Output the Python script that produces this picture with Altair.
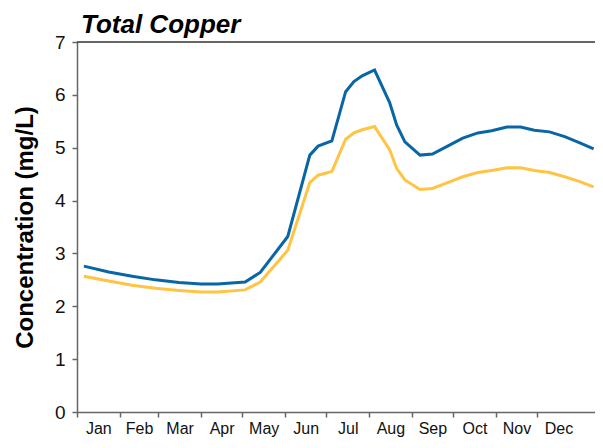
import altair as alt
import pandas as pd

# Day of year for each sample point
days = [5, 23, 40, 57, 74, 90, 102, 122, 133, 153, 169, 175, 185, 195, 201, 207, 216,
        227, 232, 238, 249, 258, 269, 280, 291, 301, 312, 322, 332, 343, 354, 365, 375]
upper = [2.76, 2.65, 2.57, 2.50, 2.45, 2.42, 2.42, 2.46, 2.64, 3.32, 4.86, 5.03, 5.13,
         6.06, 6.25, 6.36, 6.47, 5.85, 5.43, 5.11, 4.86, 4.88, 5.03, 5.18, 5.28, 5.32,
         5.39, 5.39, 5.33, 5.30, 5.21, 5.09, 4.98]
lower = [2.57, 2.48, 2.40, 2.34, 2.30, 2.27, 2.27, 2.31, 2.46, 3.06, 4.34, 4.48, 4.55,
         5.16, 5.28, 5.34, 5.40, 4.96, 4.61, 4.39, 4.21, 4.23, 4.34, 4.45, 4.53, 4.57,
         4.62, 4.62, 4.57, 4.53, 4.45, 4.36, 4.26]

months = ["Jan", "Feb", "Mar", "Apr", "May", "Jun", "Jul", "Aug", "Sep", "Oct", "Nov", "Dec"]
month_starts = [0, 31, 59, 90, 120, 151, 181, 212, 243, 273, 304, 334]
month_mids = [15.5, 45, 74.5, 105, 135.5, 166, 196.5, 227.5, 258, 288.5, 319, 349.5]
y_ticks = [0, 1, 2, 3, 4, 5, 6, 7]

series_names = ["Upper", "Lower"]
series_colors = ["#0866a4", "#ffc444"]

df = pd.concat([
    pd.DataFrame({"day": days, "value": upper, "series": "Upper"}),
    pd.DataFrame({"day": days, "value": lower, "series": "Lower"}),
])
top_df = pd.DataFrame({"v": [7]})

mids_js = "[" + ",".join(str(m) for m in month_mids) + "]"
starts_js = "[" + ",".join(str(s) for s in month_starts) + "]"
names_js = "[" + ",".join("'" + m + "'" for m in months) + "]"

font = "Liberation Sans"

x_axis = alt.Axis(
    values=month_starts + month_mids,
    labelExpr=f"indexof({mids_js}, datum.value) >= 0 ? {names_js}[indexof({mids_js}, datum.value)] : ''",
    tickOpacity={"condition": {"test": f"indexof({starts_js}, datum.value) < 0", "value": 0}, "value": 1},
    tickSize=5,
    tickColor="#666666",
    domainColor="#666666",
    domainWidth=1.5,
    tickWidth=1.5,
    labelPadding=3,
    labelFont=font,
    labelFontSize=16,
    labelColor="#111111",
    labelOverlap=False,
    labelFlush=False,
    grid=False,
    title=None,
)

y_axis = alt.Axis(
    values=y_ticks,
    format="d",
    tickSize=5,
    tickColor="#666666",
    tickWidth=1.5,
    domainColor="#666666",
    domainWidth=1.5,
    labelPadding=7,
    labelFont=font,
    labelFontSize=19,
    labelColor="#111111",
    grid=False,
    title="Concentration (mg/L)",
    titleFont=font,
    titleFontSize=24,
    titleFontWeight="bold",
    titleColor="#000000",
    titleAngle=-90,
    titleX=-52,
    titleY=185,
    titleAlign="center",
    titleBaseline="middle",
)

lines = alt.Chart(df).mark_line(strokeWidth=3).encode(
    x=alt.X("day:Q", scale=alt.Scale(domain=[0, 376], nice=False, zero=False), axis=x_axis),
    y=alt.Y("value:Q", scale=alt.Scale(domain=[0, 7], nice=False), axis=y_axis),
    color=alt.Color("series:N", scale=alt.Scale(domain=series_names, range=series_colors), legend=None),
    detail="series:N",
)

top = alt.Chart(top_df).mark_rule(color="#333333", strokeWidth=1.5).encode(y="v:Q")

chart = alt.layer(lines, top).properties(
    width=518,
    height=370,
    title=alt.TitleParams(
        "Total Copper",
        anchor="start",
        frame="group",
        font=font,
        fontSize=26,
        fontWeight="bold",
        fontStyle="italic",
        color="#000000",
        baseline="alphabetic",
        offset=10,
        dx=4,
        dy=36,
    ),
    autosize=alt.AutoSizeParams(type="none"),
    padding={"left": 69, "top": 34, "right": 0, "bottom": 26},
).configure_view(stroke=None)

chart.save("out.html", embed_options={"renderer": "svg", "actions": False})
